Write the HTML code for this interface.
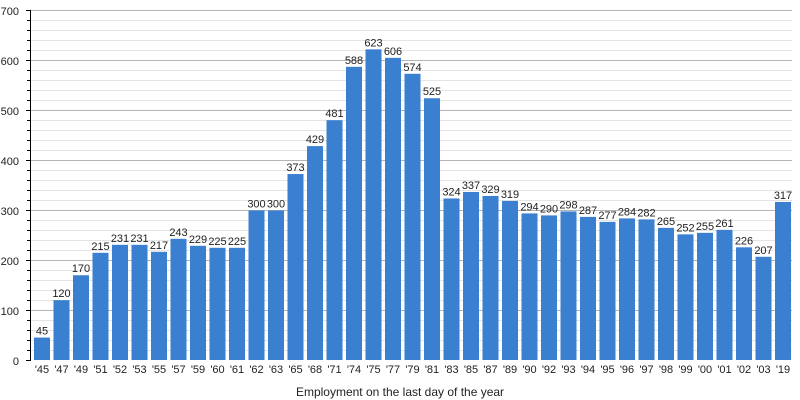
<!DOCTYPE html>
<html><head><meta charset="utf-8"><style>body{margin:0;background:#fff}svg{display:block}text{font-family:"Liberation Sans",sans-serif;font-size:11px;fill:#222}</style></head>
<body>
<svg width="800" height="400" xmlns="http://www.w3.org/2000/svg">
<g stroke="#e4e4e4" stroke-width="1">
<line x1="30" x2="792" y1="350.5" y2="350.5"/><line x1="30" x2="792" y1="340.5" y2="340.5"/><line x1="30" x2="792" y1="330.5" y2="330.5"/><line x1="30" x2="792" y1="320.5" y2="320.5"/>
<line x1="30" x2="792" y1="300.5" y2="300.5"/><line x1="30" x2="792" y1="290.5" y2="290.5"/><line x1="30" x2="792" y1="280.5" y2="280.5"/><line x1="30" x2="792" y1="270.5" y2="270.5"/>
<line x1="30" x2="792" y1="250.5" y2="250.5"/><line x1="30" x2="792" y1="240.5" y2="240.5"/><line x1="30" x2="792" y1="230.5" y2="230.5"/><line x1="30" x2="792" y1="220.5" y2="220.5"/>
<line x1="30" x2="792" y1="200.5" y2="200.5"/><line x1="30" x2="792" y1="190.5" y2="190.5"/><line x1="30" x2="792" y1="180.5" y2="180.5"/><line x1="30" x2="792" y1="170.5" y2="170.5"/>
<line x1="30" x2="792" y1="150.5" y2="150.5"/><line x1="30" x2="792" y1="140.5" y2="140.5"/><line x1="30" x2="792" y1="130.5" y2="130.5"/><line x1="30" x2="792" y1="120.5" y2="120.5"/>
<line x1="30" x2="792" y1="100.5" y2="100.5"/><line x1="30" x2="792" y1="90.5" y2="90.5"/><line x1="30" x2="792" y1="80.5" y2="80.5"/><line x1="30" x2="792" y1="70.5" y2="70.5"/>
<line x1="30" x2="792" y1="50.5" y2="50.5"/><line x1="30" x2="792" y1="40.5" y2="40.5"/><line x1="30" x2="792" y1="30.5" y2="30.5"/><line x1="30" x2="792" y1="20.5" y2="20.5"/>
</g>
<g stroke="#b4b4b4" stroke-width="1">
<line x1="30" x2="792" y1="310.5" y2="310.5"/><line x1="30" x2="792" y1="260.5" y2="260.5"/><line x1="30" x2="792" y1="210.5" y2="210.5"/><line x1="30" x2="792" y1="160.5" y2="160.5"/><line x1="30" x2="792" y1="110.5" y2="110.5"/><line x1="30" x2="792" y1="60.5" y2="60.5"/><line x1="30" x2="792" y1="10.5" y2="10.5"/>
</g>
<g transform="translate(0,360) scale(1,-0.4986)" fill="#3a7fd0">
<rect x="34" width="16" height="45"/><rect x="53.5" width="16" height="120"/><rect x="73" width="16" height="170"/><rect x="92.5" width="16" height="215"/><rect x="112" width="16" height="231"/><rect x="131.5" width="16" height="231"/><rect x="151" width="16" height="217"/><rect x="170.5" width="16" height="243"/><rect x="190" width="16" height="229"/><rect x="209.5" width="16" height="225"/><rect x="229" width="16" height="225"/><rect x="248.5" width="16" height="300"/><rect x="268" width="16" height="300"/><rect x="287.5" width="16" height="373"/><rect x="307" width="16" height="429"/><rect x="326.5" width="16" height="481"/><rect x="346" width="16" height="588"/><rect x="365.5" width="16" height="623"/><rect x="385" width="16" height="606"/><rect x="404.5" width="16" height="574"/><rect x="424" width="16" height="525"/><rect x="443.5" width="16" height="324"/><rect x="463" width="16" height="337"/><rect x="482.5" width="16" height="329"/><rect x="502" width="16" height="319"/><rect x="521.5" width="16" height="294"/><rect x="541" width="16" height="290"/><rect x="560.5" width="16" height="298"/><rect x="580" width="16" height="287"/><rect x="599.5" width="16" height="277"/><rect x="619" width="16" height="284"/><rect x="638.5" width="16" height="282"/><rect x="658" width="16" height="265"/><rect x="677.5" width="16" height="252"/><rect x="697" width="16" height="255"/><rect x="716.5" width="16" height="261"/><rect x="736" width="16" height="226"/><rect x="755.5" width="16" height="207"/><rect x="775" width="16" height="317"/>
</g>
<g stroke="#000" stroke-width="1">
<line x1="30.5" x2="30.5" y1="10" y2="361"/>
<line x1="26" x2="30" y1="360.5" y2="360.5"/><line x1="26" x2="30" y1="310.5" y2="310.5"/><line x1="26" x2="30" y1="260.5" y2="260.5"/><line x1="26" x2="30" y1="210.5" y2="210.5"/><line x1="26" x2="30" y1="160.5" y2="160.5"/><line x1="26" x2="30" y1="110.5" y2="110.5"/><line x1="26" x2="30" y1="60.5" y2="60.5"/><line x1="26" x2="30" y1="10.5" y2="10.5"/>
<line x1="27" x2="30" y1="350.5" y2="350.5"/><line x1="27" x2="30" y1="340.5" y2="340.5"/><line x1="27" x2="30" y1="330.5" y2="330.5"/><line x1="27" x2="30" y1="320.5" y2="320.5"/>
<line x1="27" x2="30" y1="300.5" y2="300.5"/><line x1="27" x2="30" y1="290.5" y2="290.5"/><line x1="27" x2="30" y1="280.5" y2="280.5"/><line x1="27" x2="30" y1="270.5" y2="270.5"/>
<line x1="27" x2="30" y1="250.5" y2="250.5"/><line x1="27" x2="30" y1="240.5" y2="240.5"/><line x1="27" x2="30" y1="230.5" y2="230.5"/><line x1="27" x2="30" y1="220.5" y2="220.5"/>
<line x1="27" x2="30" y1="200.5" y2="200.5"/><line x1="27" x2="30" y1="190.5" y2="190.5"/><line x1="27" x2="30" y1="180.5" y2="180.5"/><line x1="27" x2="30" y1="170.5" y2="170.5"/>
<line x1="27" x2="30" y1="150.5" y2="150.5"/><line x1="27" x2="30" y1="140.5" y2="140.5"/><line x1="27" x2="30" y1="130.5" y2="130.5"/><line x1="27" x2="30" y1="120.5" y2="120.5"/>
<line x1="27" x2="30" y1="100.5" y2="100.5"/><line x1="27" x2="30" y1="90.5" y2="90.5"/><line x1="27" x2="30" y1="80.5" y2="80.5"/><line x1="27" x2="30" y1="70.5" y2="70.5"/>
<line x1="27" x2="30" y1="50.5" y2="50.5"/><line x1="27" x2="30" y1="40.5" y2="40.5"/><line x1="27" x2="30" y1="30.5" y2="30.5"/><line x1="27" x2="30" y1="20.5" y2="20.5"/>
</g>
<g text-anchor="end">
<text x="19" y="365">0</text><text x="19" y="315">100</text><text x="19" y="265">200</text><text x="19" y="215">300</text><text x="19" y="165">400</text><text x="19" y="115">500</text><text x="19" y="65">600</text><text x="19" y="15">700</text>
</g>
<g text-anchor="middle">
<text x="42" y="334.6">45</text><text x="61.5" y="297.2">120</text><text x="81" y="272.2">170</text><text x="100.5" y="249.8">215</text><text x="120" y="241.8">231</text><text x="139.5" y="241.8">231</text><text x="159" y="248.8">217</text><text x="178.5" y="235.8">243</text><text x="198" y="242.8">229</text><text x="217.5" y="244.8">225</text><text x="237" y="244.8">225</text><text x="256.5" y="207.4">300</text><text x="276" y="207.4">300</text><text x="295.5" y="171">373</text><text x="315" y="143.1">429</text><text x="334.5" y="117.2">481</text><text x="354" y="63.8">588</text><text x="373.5" y="46.4">623</text><text x="393" y="54.8">606</text><text x="412.5" y="70.8">574</text><text x="432" y="95.2">525</text><text x="451.5" y="195.5">324</text><text x="471" y="189">337</text><text x="490.5" y="193">329</text><text x="510" y="197.9">319</text><text x="529.5" y="210.4">294</text><text x="549" y="212.4">290</text><text x="568.5" y="208.4">298</text><text x="588" y="213.9">287</text><text x="607.5" y="218.9">277</text><text x="627" y="215.4">284</text><text x="646.5" y="216.4">282</text><text x="666" y="224.9">265</text><text x="685.5" y="231.4">252</text><text x="705" y="229.9">255</text><text x="724.5" y="226.9">261</text><text x="744" y="244.3">226</text><text x="763.5" y="253.8">207</text><text x="783" y="198.9">317</text>
</g>
<g text-anchor="middle">
<text x="42" y="373">'45</text><text x="61.5" y="373">'47</text><text x="81" y="373">'49</text><text x="100.5" y="373">'51</text><text x="120" y="373">'52</text><text x="139.5" y="373">'53</text><text x="159" y="373">'55</text><text x="178.5" y="373">'57</text><text x="198" y="373">'59</text><text x="217.5" y="373">'60</text><text x="237" y="373">'61</text><text x="256.5" y="373">'62</text><text x="276" y="373">'63</text><text x="295.5" y="373">'65</text><text x="315" y="373">'68</text><text x="334.5" y="373">'71</text><text x="354" y="373">'74</text><text x="373.5" y="373">'75</text><text x="393" y="373">'77</text><text x="412.5" y="373">'79</text><text x="432" y="373">'81</text><text x="451.5" y="373">'83</text><text x="471" y="373">'85</text><text x="490.5" y="373">'87</text><text x="510" y="373">'89</text><text x="529.5" y="373">'90</text><text x="549" y="373">'92</text><text x="568.5" y="373">'93</text><text x="588" y="373">'94</text><text x="607.5" y="373">'95</text><text x="627" y="373">'96</text><text x="646.5" y="373">'97</text><text x="666" y="373">'98</text><text x="685.5" y="373">'99</text><text x="705" y="373">'00</text><text x="724.5" y="373">'01</text><text x="744" y="373">'02</text><text x="763.5" y="373">'03</text><text x="783" y="373">'19</text>
</g>
<text x="400" y="396" text-anchor="middle" style="font-size:12px">Employment on the last day of the year</text>
</svg>
</body></html>
